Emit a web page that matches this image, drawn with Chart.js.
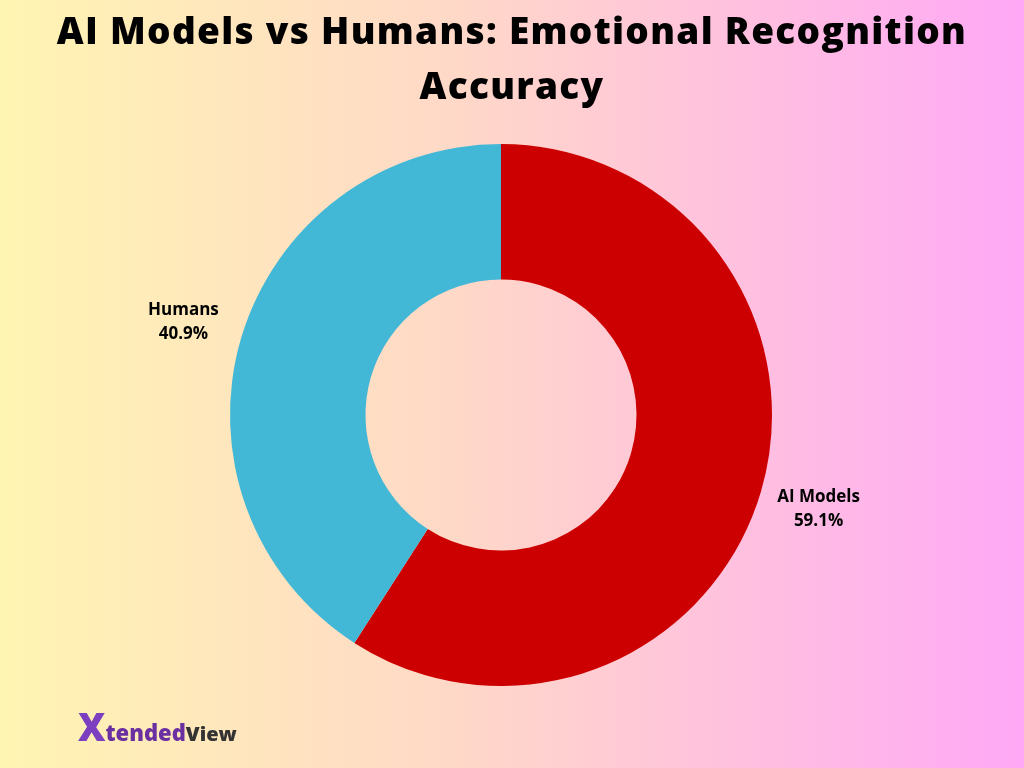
<!DOCTYPE html>
<html><head><meta charset="utf-8">
<script src="https://cdn.jsdelivr.net/npm/chart.js@4"></script>
<style>
html,body{margin:0;padding:0;width:1024px;height:768px;overflow:hidden;}
body{background:linear-gradient(to right,#FFF5B2 0%,#FFD8C8 45%,#FFA8F6 100%);position:relative;font-family:"Open Sans",sans-serif;}
#title{position:absolute;top:2px;left:0;width:1024px;text-align:center;font-weight:800;font-size:37px;letter-spacing:1.3px;line-height:55px;color:#000;}
#wrap{position:absolute;left:0;top:0;width:1024px;height:768px;}
#logo{position:absolute;left:78px;top:700px;font-weight:800;font-size:22px;color:#6a2fa0;}
#logo .x{font-size:38px;color:#7b3fc0;}
#logo .v{color:#333;font-size:20px;}
</style></head><body>
<div id="wrap"><canvas id="c" width="1024" height="768"></canvas></div>
<div id="title">AI Models vs Humans: Emotional Recognition<br>Accuracy</div>
<div id="logo"><span class="x">X</span>tended<span class="v">View</span></div>
<script>
const categories=["AI Models","Humans"];
const values=[59.1,40.9];
const colors=["#CC0000","#42B8D6"];
const labelPlugin={id:'lbl',afterDatasetsDraw(chart){
  const ctx=chart.ctx;const meta=chart.getDatasetMeta(0);
  meta.data.forEach((arc,i)=>{
    const mid=(arc.startAngle+arc.endAngle)/2;const r=arc.outerRadius+60;
    const x=arc.x+Math.cos(mid)*r,y=arc.y+Math.sin(mid)*r;
    ctx.save();ctx.fillStyle='#000';ctx.font='bold 17px "Open Sans"';ctx.textAlign='center';ctx.textBaseline='middle';
    ctx.fillText(categories[i],x,y-11);ctx.fillText(values[i].toFixed(1)+'%',x,y+13);ctx.restore();
  });}};
new Chart(document.getElementById('c'),{type:'doughnut',
 data:{labels:categories,datasets:[{data:values,backgroundColor:colors,borderWidth:0}]},
 options:{responsive:false,animation:false,cutout:'50%',
  layout:{padding:{left:230,right:252,top:144,bottom:82}},
  plugins:{legend:{display:false},tooltip:{enabled:false}}},
 plugins:[labelPlugin]});
</script></body></html>
